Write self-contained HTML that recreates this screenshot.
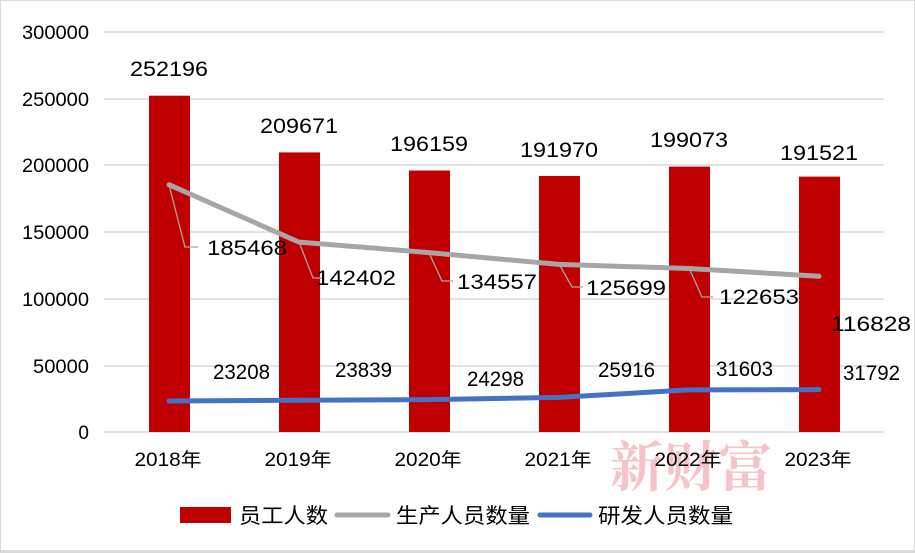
<!DOCTYPE html><html><head><meta charset="utf-8"><style>body{margin:0;background:#fff}svg{display:block}text{font-family:"Liberation Sans","Noto Sans CJK SC",sans-serif;fill:#000}</style></head><body>
<svg width="915" height="553" viewBox="0 0 915 553">
<rect x="0.5" y="0.5" width="914" height="552" fill="#fff" stroke="#d9d9d9"/>
<g stroke="#d9d9d9" stroke-width="1.5">
<line x1="104" x2="884" y1="32" y2="32"/><line x1="104" x2="884" y1="99" y2="99"/><line x1="104" x2="884" y1="165" y2="165"/><line x1="104" x2="884" y1="232" y2="232"/><line x1="104" x2="884" y1="299" y2="299"/><line x1="104" x2="884" y1="366" y2="366"/><line x1="104" x2="884" y1="432" y2="432"/></g>
<g font-size="19" text-anchor="end">
<text x="89" y="39" textLength="67" lengthAdjust="spacingAndGlyphs">300000</text><text x="89" y="106" textLength="67" lengthAdjust="spacingAndGlyphs">250000</text><text x="89" y="172" textLength="67" lengthAdjust="spacingAndGlyphs">200000</text><text x="89" y="239" textLength="67" lengthAdjust="spacingAndGlyphs">150000</text><text x="89" y="306" textLength="67" lengthAdjust="spacingAndGlyphs">100000</text><text x="89" y="373" textLength="56" lengthAdjust="spacingAndGlyphs">50000</text><text x="89" y="439">0</text></g>
<text x="610" y="486" font-size="54" style="fill:#f6c4c8;font-family:'Noto Serif CJK SC',serif;font-weight:bold">新财富</text>
<g fill="#c00000">
<rect x="149" y="95.7" width="41" height="336.3"/><rect x="279" y="152.4" width="41" height="279.6"/><rect x="409" y="170.5" width="41" height="261.5"/><rect x="539" y="176" width="41" height="256"/><rect x="669" y="166.6" width="41" height="265.4"/><rect x="799" y="176.6" width="41" height="255.4"/></g>
<g font-size="21" text-anchor="middle">
<text x="169" y="76" textLength="78" lengthAdjust="spacingAndGlyphs">252196</text><text x="299" y="133" textLength="78" lengthAdjust="spacingAndGlyphs">209671</text><text x="429" y="151" textLength="78" lengthAdjust="spacingAndGlyphs">196159</text><text x="559" y="157" textLength="78" lengthAdjust="spacingAndGlyphs">191970</text><text x="689" y="147" textLength="78" lengthAdjust="spacingAndGlyphs">199073</text><text x="819" y="160" textLength="78" lengthAdjust="spacingAndGlyphs">191521</text></g>
<g font-size="19" text-anchor="middle">
<text x="168" y="466" textLength="67" lengthAdjust="spacingAndGlyphs">2018年</text><text x="298" y="466" textLength="67" lengthAdjust="spacingAndGlyphs">2019年</text><text x="428" y="466" textLength="67" lengthAdjust="spacingAndGlyphs">2020年</text><text x="558" y="466" textLength="67" lengthAdjust="spacingAndGlyphs">2021年</text><text x="688" y="466" textLength="67" lengthAdjust="spacingAndGlyphs">2022年</text><text x="818" y="466" textLength="67" lengthAdjust="spacingAndGlyphs">2023年</text></g>
<g stroke="#a6a6a6" stroke-width="1.3" fill="none">
<polyline points="169,185 185,247 198,247"/><polyline points="299,242 313,278 324,278"/><polyline points="429,253 442,281 453,281"/><polyline points="559,264 572,287 583,287"/><polyline points="689,268 702,297 713,297"/></g>
<polyline points="169,184.7 299,242.1 429,252.6 559,264.4 689,268.5 819,276.2" fill="none" stroke="#a6a6a6" stroke-width="5" stroke-linejoin="round" stroke-linecap="round"/>
<polyline points="169,401 299,400.2 429,399.6 559,397.4 689,389.9 819,389.6" fill="none" stroke="#4472c4" stroke-width="5" stroke-linejoin="round" stroke-linecap="round"/>
<g font-size="21">
<text x="207" y="255" textLength="80" lengthAdjust="spacingAndGlyphs">185468</text><text x="316" y="285" textLength="80" lengthAdjust="spacingAndGlyphs">142402</text><text x="457" y="289" textLength="80" lengthAdjust="spacingAndGlyphs">134557</text><text x="586" y="295" textLength="80" lengthAdjust="spacingAndGlyphs">125699</text><text x="719" y="304" textLength="80" lengthAdjust="spacingAndGlyphs">122653</text><text x="831" y="331" textLength="80" lengthAdjust="spacingAndGlyphs">116828</text>
<text x="213" y="379" textLength="57" lengthAdjust="spacingAndGlyphs">23208</text><text x="335" y="377" textLength="57" lengthAdjust="spacingAndGlyphs">23839</text><text x="467" y="386" textLength="57" lengthAdjust="spacingAndGlyphs">24298</text><text x="598" y="377" textLength="57" lengthAdjust="spacingAndGlyphs">25916</text><text x="716" y="376" textLength="57" lengthAdjust="spacingAndGlyphs">31603</text><text x="843" y="380" textLength="57" lengthAdjust="spacingAndGlyphs">31792</text></g>
<rect x="180" y="507" width="51" height="16" fill="#c00000"/>
<line x1="337" x2="388" y1="515" y2="515" stroke="#a6a6a6" stroke-width="5" stroke-linecap="round"/>
<line x1="540" x2="590" y1="515" y2="515" stroke="#4472c4" stroke-width="5" stroke-linecap="round"/>
<g font-size="21"><text x="239" y="523" textLength="89" lengthAdjust="spacingAndGlyphs">员工人数</text><text x="396" y="523" textLength="134" lengthAdjust="spacingAndGlyphs">生产人员数量</text><text x="598" y="523" textLength="135" lengthAdjust="spacingAndGlyphs">研发人员数量</text></g>
<line x1="0" x2="915" y1="551" y2="551" stroke="#d9d9d9" stroke-width="2"/>
</svg></body></html>
